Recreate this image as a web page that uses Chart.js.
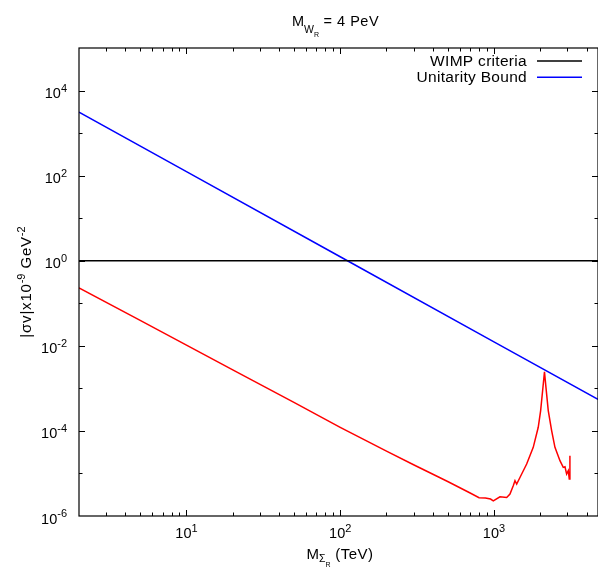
<!DOCTYPE html>
<html>
<head>
<meta charset="utf-8">
<script src="https://cdn.jsdelivr.net/npm/chart.js@4.4.1/dist/chart.umd.min.js"></script>
<style>
  html, body { margin: 0; padding: 0; background: #fff; }
  #wrap { width: 598px; height: 568px; }
</style>
</head>
<body>
<div id="wrap"><canvas id="chart" width="598" height="568"></canvas></div>
<script>
/* ===== data ===== */
const massRange = [2, 4750];        // TeV
const sigmaRange = [1e-6, 1e5];

const wimpMass = [2, 4750];
const wimpSigma = [1, 1];

const unitMass = [2, 10, 100, 1000, 4750];
const unitSigma = [3100, 124, 1.24, 0.0124, 5.5e-4];

const curveMass = [2, 5, 10, 20, 50, 100, 200, 300, 500, 700, 800, 880, 950, 990,
    1094, 1210, 1271, 1335, 1370, 1405, 1476, 1632, 1801, 1941, 2012, 2073, 2131,
    2178, 2255, 2372, 2493, 2687, 2823, 2897, 2970, 3043, 3089, 3119];
const curveSigma = [0.231, 0.0397, 0.0104, 2.73e-3, 4.7e-4, 1.21e-4, 3.34e-5, 1.6e-5,
    6.46e-6, 3.47e-6, 2.68e-6, 2.64e-6, 2.5e-6, 2.27e-6,
    2.82e-6, 2.72e-6, 3.27e-6, 5.13e-6, 6.73e-6, 5.62e-6, 8.05e-6, 1.67e-5, 4.1e-5,
    1.22e-4, 3.01e-4, 8.92e-4, 2.44e-3, 1.07e-3, 3.01e-4, 1.02e-4, 4.1e-5, 2.0e-5,
    1.39e-5, 1.44e-5, 9.68e-6, 1.16e-5, 7.38e-6, 2.62e-5];

const xLabelTicks = [10, 100, 1000];
const yLabelTicks = [1e-6, 1e-4, 1e-2, 1, 1e2, 1e4];

const FONT = '"Liberation Sans", Arial, Helvetica, sans-serif';

function toPoints(xs, ys) {
    return xs.map((x, i) => ({ x, y: ys[i] }));
}

// draw a row of text pieces (for sub/superscripts)
function drawRich(ctx, parts, x, y, align) {
    let total = 0;
    parts.forEach(p => {
        ctx.font = p.size + 'px ' + FONT;
        ctx.letterSpacing = (p.ls || 0) + 'px';
        p.w = ctx.measureText(p.t).width;
        total += p.w;
    });
    let cx = align === 'center' ? x - total / 2 : align === 'right' ? x - total : x;
    parts.forEach(p => {
        ctx.font = p.size + 'px ' + FONT;
        ctx.letterSpacing = (p.ls || 0) + 'px';
        ctx.fillText(p.t, cx, y + (p.dy || 0));
        cx += p.w;
    });
    ctx.letterSpacing = '0px';
}

function powerParts(v) {
    const e = Math.round(Math.log10(v));
    return [{ t: '10', size: 14.5 }, { t: String(e), size: 11, dy: -6.5 }];
}

/* ===== frame, inward ticks, labels, titles, key ===== */
const gnuplotFrame = {
    id: 'gnuplotFrame',
    afterDatasetsDraw(chart) {
        const { ctx, chartArea: a, scales: { x, y } } = chart;
        ctx.save();
        ctx.strokeStyle = '#000';
        ctx.fillStyle = '#000';
        ctx.lineWidth = 1.2;
        ctx.strokeRect(a.left, a.top, a.right - a.left, a.bottom - a.top);

        ctx.lineWidth = 1;
        ctx.beginPath();
        // x ticks: every 1..9 in each decade
        for (let d = 1; d <= 1e4; d *= 10) {
            for (let k = 1; k <= 9; k++) {
                const v = k * d;
                if (v <= massRange[0] || v >= massRange[1]) continue;
                const px = Math.round(x.getPixelForValue(v)) + 0.5;
                const len = k === 1 ? 6 : 3.5;
                ctx.moveTo(px, a.bottom); ctx.lineTo(px, a.bottom - len);
                ctx.moveTo(px, a.top); ctx.lineTo(px, a.top + len);
            }
        }
        // y ticks: every decade, long ones where labelled
        for (let e = -5; e <= 4; e++) {
            const py = Math.round(y.getPixelForValue(Math.pow(10, e))) + 0.5;
            const len = e % 2 === 0 ? 6 : 3.5;
            ctx.moveTo(a.left, py); ctx.lineTo(a.left + len, py);
            ctx.moveTo(a.right, py); ctx.lineTo(a.right - len, py);
        }
        ctx.stroke();

        ctx.textBaseline = 'alphabetic';
        ctx.textAlign = 'left';
        xLabelTicks.forEach(v => {
            drawRich(ctx, powerParts(v), x.getPixelForValue(v), 538, 'center');
        });
        yLabelTicks.forEach(v => {
            drawRich(ctx, powerParts(v), 67, y.getPixelForValue(v) + 7.5, 'right');
        });

        // plot title
        drawRich(ctx, [
            { t: 'M', size: 14.5 },
            { t: 'W', size: 10.5, dy: 7.5 },
            { t: 'R', size: 7, dy: 11 },
            { t: ' = 4 PeV', size: 14.5, ls: 0.5 }
        ], 292, 25.7, 'left');

        // x axis title
        drawRich(ctx, [
            { t: 'M', size: 15 },
            { t: 'Σ', size: 10.5, dy: 2.5 },
            { t: 'R', size: 7, dy: 8 },
            { t: ' (TeV)', size: 15, ls: 0.5 }
        ], 340, 559, 'center');

        // y axis title
        ctx.save();
        ctx.translate(31, (a.top + a.bottom) / 2);
        ctx.rotate(-Math.PI / 2);
        drawRich(ctx, [
            { t: '|σv|x10', size: 15, ls: 0.8 },
            { t: '-9', size: 11, dy: -6.5 },
            { t: ' GeV', size: 15, ls: 0.8 },
            { t: '-2', size: 11, dy: -6.5 }
        ], 0, 0, 'center');
        ctx.restore();

        // key, top right
        const items = chart.data.datasets.filter(d => d.label);
        items.forEach((d, i) => {
            const ly = 61 + i * 16.3;
            drawRich(ctx, [{ t: d.label, size: 15.5, ls: 0.3 }], 527, ly + 5, 'right');
            ctx.strokeStyle = d.borderColor;
            ctx.lineWidth = 1.4;
            ctx.beginPath();
            ctx.moveTo(537, ly); ctx.lineTo(582, ly);
            ctx.stroke();
        });
        ctx.restore();
    }
};

const lineStyle = { borderWidth: 1.5, pointRadius: 0, tension: 0, fill: false };

new Chart(document.getElementById('chart'), {
    type: 'line',
    data: {
        datasets: [
            { ...lineStyle, label: 'WIMP criteria', data: toPoints(wimpMass, wimpSigma), borderColor: '#000000' },
            { ...lineStyle, label: 'Unitarity Bound', data: toPoints(unitMass, unitSigma), borderColor: '#0000ff' },
            { ...lineStyle, data: toPoints(curveMass, curveSigma), borderColor: '#ff0000' }
        ]
    },
    options: {
        responsive: false,
        devicePixelRatio: 1,
        animation: false,
        layout: { padding: { top: 48, left: 0, right: 0, bottom: 0 } },
        scales: {
            x: {
                type: 'logarithmic',
                min: massRange[0],
                max: massRange[1],
                ticks: { display: false },
                grid: { display: false },
                border: { display: false },
                afterFit(s) { s.height = 52; }
            },
            y: {
                type: 'logarithmic',
                min: sigmaRange[0],
                max: sigmaRange[1],
                ticks: { display: false },
                grid: { display: false },
                border: { display: false },
                afterFit(s) { s.width = 79; }
            }
        },
        plugins: {
            legend: { display: false },
            tooltip: { enabled: false },
            title: { display: false }
        }
    },
    plugins: [gnuplotFrame]
});
</script>
</body>
</html>
